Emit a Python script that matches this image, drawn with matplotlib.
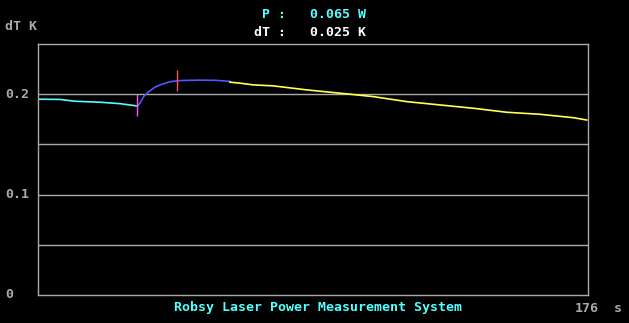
from matplotlib import pyplot as plt
import matplotlib.transforms as mtransforms

# Readings (seconds, kelvin) taken off the screen trace
cyan_t = [0, 7, 11.8, 19.8, 26.2, 31, 31.8]
cyan_v = [0.1950, 0.1948, 0.1930, 0.1920, 0.1906, 0.1886, 0.1880]

blue_t = [31.8, 32.6, 33.9, 35.2, 37.4, 39.7, 42.2, 45.4, 51.8, 57.0, 61.4]
blue_v = [0.1880, 0.1910, 0.1980, 0.2020, 0.2070, 0.2100, 0.2124, 0.2136,
          0.2140, 0.2138, 0.2128]

yellow_t = [61.4, 64.6, 68.8, 75.3, 86.0, 99.8, 107.3, 118.0, 128.6,
            139.3, 150.0, 160.6, 171.3, 175.6]
yellow_v = [0.2120, 0.2110, 0.2093, 0.2083, 0.2043, 0.2000, 0.1976, 0.1926,
            0.1893, 0.1860, 0.1820, 0.1800, 0.1766, 0.1743]

start_mark = (31.8, 0.1784, 0.2003)
peak_mark = (44.6, 0.2036, 0.2243)

y_ticks = [0, 0.05, 0.1, 0.15, 0.2, 0.25]
y_labels = ['0', '', '0.1', '', '0.2', '']
t_max = 176

GRAY = '#aaaaaa'
CYAN = '#55ffff'
font = dict(family='DejaVu Sans Mono', fontweight='bold', fontsize=9.5)

fig = plt.figure(figsize=(6.29, 3.23), dpi=100, facecolor='black')
ax = fig.add_axes([38 / 629, 28 / 323, 550 / 629, 251 / 323])
ax.set_facecolor('black')
ax.set_xlim(0, t_max)
ax.set_ylim(0, 0.25)

for v in y_ticks[1:-1]:
    ax.axhline(v, color=GRAY, lw=1)
for s in ax.spines.values():
    s.set_color(GRAY)
    s.set_linewidth(1)
ax.set_xticks([])
ax.set_yticks([])

ax.plot(cyan_t, cyan_v, color=CYAN, lw=1.2)
ax.plot(blue_t, blue_v, color='#5555ff', lw=1.2)
ax.plot(yellow_t, yellow_v, color='#ffff55', lw=1.2)
ax.vlines(start_mark[0], start_mark[1], start_mark[2], color='#ff55ff', lw=1)
ax.vlines(peak_mark[0], peak_mark[1], peak_mark[2], color='#ff5555', lw=1)

# y labels at the left edge of the screen
trans = mtransforms.blended_transform_factory(fig.transFigure, ax.transData)
for v, lab in zip(y_ticks, y_labels):
    if lab:
        ax.text(5 / 629, v, lab, transform=trans, color=GRAY,
                ha='left', va='center', **font)

fig.text(5 / 629, 1 - 27 / 323, 'dT K', color=GRAY, ha='left', va='center', **font)
fig.text(262 / 629, 1 - 15 / 323, 'P :   0.065 W', color=CYAN,
         ha='left', va='center', **font)
fig.text(254 / 629, 1 - 32 / 323, 'dT :   0.025 K', color='white',
         ha='left', va='center', **font)
fig.text(174 / 629, 1 - 308 / 323, 'Robsy Laser Power Measurement System',
         color=CYAN, ha='left', va='center', **font)
fig.text(575 / 629, 1 - 308 / 323, str(t_max), color=GRAY,
         ha='left', va='center', **font)
fig.text(614 / 629, 1 - 308 / 323, 's', color=GRAY, ha='left', va='center', **font)

fig.savefig('out.png', dpi=100, facecolor='black')
